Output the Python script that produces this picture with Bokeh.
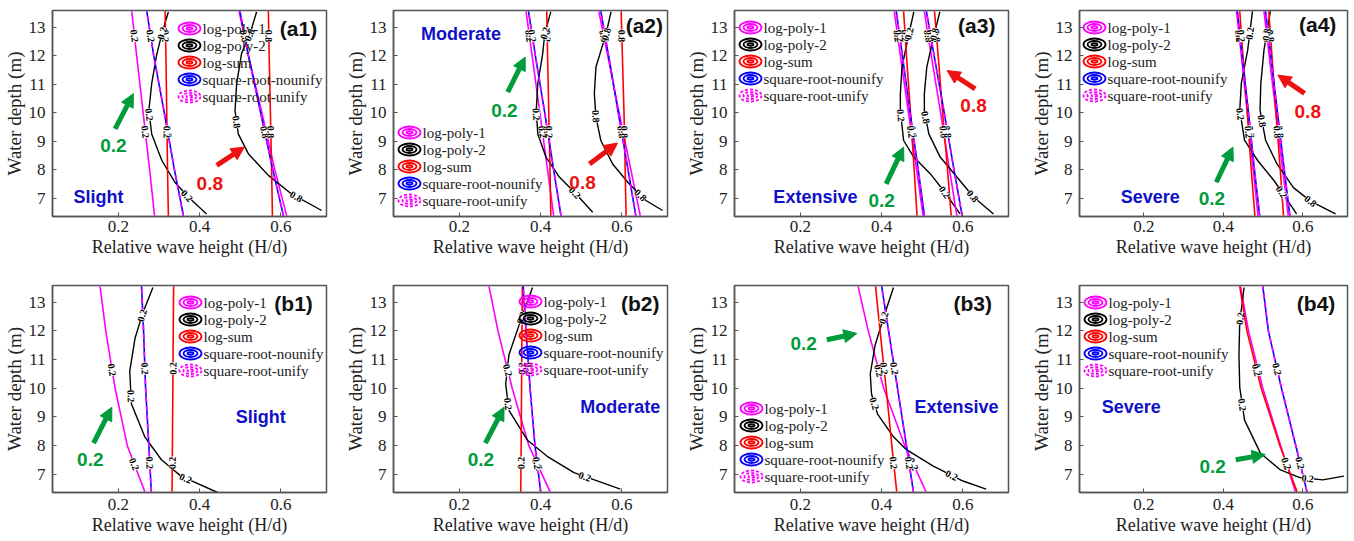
import math
from bokeh.plotting import figure
from bokeh.layouts import row, column
from bokeh.models import Range1d, FixedTicker, Arrow, NormalHead, Label
from bokeh.core.properties import value
from bokeh.embed import file_html
from bokeh.resources import INLINE

# ---------------- data ----------------
X_RANGE = (0.038, 0.712)
Y_RANGE = (6.37, 13.58)
X_TICKS = [0.2, 0.4, 0.6]
Y_TICKS = [7, 8, 9, 10, 11, 12, 13]
METHODS = ["log-poly-1", "log-poly-2", "log-sum", "square-root-nounify", "square-root-unify"]
DEPTH = [6.4, 8.0, 10.0, 12.0, 13.55]   # depths for near-straight contour lines

# (a1) Slight
A1_LP1_02 = [0.289, 0.277, 0.261, 0.245, 0.233]
A1_SR_02 = [0.360, 0.338, 0.313, 0.287, 0.270]
A1_LS_02 = [0.323, 0.321, 0.319, 0.317, 0.315]
A1_LP2_02_X = [0.323, 0.307, 0.294, 0.282, 0.275, 0.282, 0.307, 0.339, 0.372, 0.417]
A1_LP2_02_Y = [13.53, 12.77, 12.01, 11.02, 10.08, 9.26, 8.33, 7.57, 7.05, 6.46]
A1_LP1_08 = [0.614, 0.585, 0.553, 0.520, 0.497]
A1_SR_08 = [0.606, 0.580, 0.550, 0.520, 0.499]
A1_LS_08 = [0.579, 0.577, 0.574, 0.571, 0.569]
A1_LP2_08_X = [0.540, 0.524, 0.503, 0.491, 0.487, 0.495, 0.520, 0.569, 0.626, 0.700]
A1_LP2_08_Y = [13.53, 12.77, 12.07, 11.02, 10.08, 9.26, 8.56, 7.81, 7.16, 6.58]

# (a2) Moderate
A2_LP1_02 = [0.432, 0.417, 0.398, 0.379, 0.364]
A2_SR_02 = [0.450, 0.432, 0.410, 0.387, 0.370]
A2_LS_02 = [0.425, 0.423, 0.420, 0.417, 0.415]
A2_LP2_02_X = [0.425, 0.410, 0.405, 0.393, 0.389, 0.393, 0.413, 0.446, 0.487, 0.528]
A2_LP2_02_Y = [13.53, 12.77, 12.07, 11.02, 10.08, 9.26, 8.45, 7.75, 7.16, 6.52]
A2_LP1_08 = [0.645, 0.622, 0.593, 0.565, 0.543]
A2_SR_08 = [0.634, 0.615, 0.591, 0.567, 0.548]
A2_LS_08 = [0.610, 0.608, 0.605, 0.601, 0.598]
A2_LP2_08_X = [0.573, 0.561, 0.536, 0.532, 0.536, 0.548, 0.577, 0.618, 0.659, 0.700]
A2_LP2_08_Y = [13.53, 12.77, 11.60, 10.67, 9.85, 9.03, 8.21, 7.51, 6.93, 6.58]

# (a3) Extensive
A3_LP1_02 = [0.502, 0.486, 0.466, 0.446, 0.431]
A3_SR_02 = [0.505, 0.490, 0.470, 0.451, 0.436]
A3_LS_02 = [0.487, 0.480, 0.471, 0.461, 0.454]
A3_LP2_02_X = [0.479, 0.462, 0.450, 0.446, 0.446, 0.454, 0.479, 0.520, 0.552, 0.593]
A3_LP2_02_Y = [13.53, 12.42, 11.60, 10.67, 10.08, 9.03, 8.45, 7.86, 7.28, 6.46]
A3_LP1_08 = [0.585, 0.567, 0.545, 0.522, 0.505]
A3_SR_08 = [0.598, 0.578, 0.554, 0.529, 0.510]
A3_LS_08 = [0.571, 0.562, 0.550, 0.539, 0.530]
A3_LP2_08_X = [0.543, 0.524, 0.511, 0.505, 0.505, 0.516, 0.544, 0.585, 0.626, 0.675]
A3_LP2_08_Y = [13.53, 12.42, 11.60, 10.67, 10.08, 9.26, 8.45, 7.75, 7.05, 6.46]

# (a4) Severe
A4_LP1_02 = [0.487, 0.475, 0.460, 0.445, 0.433]
A4_SR_02 = [0.491, 0.478, 0.463, 0.447, 0.435]
A4_LS_02 = [0.479, 0.470, 0.460, 0.449, 0.441]
A4_LP2_02_X = [0.473, 0.461, 0.445, 0.441, 0.453, 0.486, 0.527, 0.584]
A4_LP2_02_Y = [13.55, 12.20, 11.03, 10.09, 9.04, 8.33, 7.63, 6.46]
A4_LP1_08 = [0.563, 0.549, 0.532, 0.515, 0.502]
A4_SR_08 = [0.567, 0.553, 0.536, 0.519, 0.506]
A4_LS_08 = [0.551, 0.543, 0.532, 0.522, 0.514]
A4_LP2_08_X = [0.518, 0.502, 0.494, 0.492, 0.506, 0.535, 0.576, 0.620, 0.682]
A4_LP2_08_Y = [13.55, 12.20, 11.03, 10.09, 9.04, 8.20, 7.38, 6.90, 6.46]

# (b1) Slight
B1_LP1_02 = [0.265, 0.222, 0.192, 0.169, 0.155]
B1_SR_02 = [0.281, 0.275, 0.267, 0.262, 0.257]
B1_LS_02 = [0.332, 0.333, 0.334, 0.335, 0.336]
B1_LP2_02_X = [0.285, 0.261, 0.241, 0.228, 0.232, 0.265, 0.306, 0.354, 0.444]
B1_LP2_02_Y = [13.51, 12.66, 11.74, 10.60, 9.46, 8.31, 7.51, 6.94, 6.37]

# (b2) Moderate
B2_LP1_02 = [0.423, 0.371, 0.330, 0.295, 0.273]
B2_SR_02 = [0.400, 0.386, 0.374, 0.364, 0.357]
B2_LS_02 = [0.351, 0.352, 0.353, 0.354, 0.355]
B2_LP2_02_X = [0.380, 0.355, 0.322, 0.314, 0.322, 0.367, 0.416, 0.482, 0.596]
B2_LP2_02_Y = [13.51, 12.54, 11.17, 10.14, 9.23, 8.20, 7.63, 7.06, 6.49]

# (b3) Extensive
B3_LP1_02 = [0.509, 0.457, 0.405, 0.367, 0.342]
B3_SR_02 = [0.478, 0.461, 0.439, 0.417, 0.400]
B3_LS_02 = [0.437, 0.425, 0.411, 0.396, 0.385]
B3_LP2_02_X = [0.429, 0.404, 0.384, 0.372, 0.375, 0.390, 0.429, 0.461, 0.527, 0.600, 0.657]
B3_LP2_02_Y = [13.51, 12.43, 11.51, 10.50, 9.80, 9.10, 8.31, 7.86, 7.29, 6.77, 6.49]

# (b4) Severe
B4_LP1_02 = [0.581, 0.544, 0.499, 0.463, 0.443]
B4_SR_02 = [0.610, 0.582, 0.546, 0.513, 0.499]
B4_LS_02 = [0.585, 0.542, 0.495, 0.459, 0.441]
B4_LP2_02_X = [0.452, 0.441, 0.439, 0.441, 0.453, 0.493, 0.542, 0.592, 0.650, 0.703]
B4_LP2_02_Y = [13.51, 12.31, 11.17, 10.03, 8.89, 7.74, 7.17, 6.89, 6.81, 6.94]

# ---------------- styling ----------------
MAGENTA = "#ff00ff"
BLUE = "#0000ff"
RED = "#ff0000"
BLACK = "#000000"
GREEN = "#009b3a"
ARROW_RED = "#ee1111"
SEV_BLUE = "#1010c8"
AXIS_C = "#555555"
TEXT_C = "#222222"
SERIF = "Liberation Serif"
SANS = "Liberation Sans"

LEGEND_STYLE = [(MAGENTA, "solid"), (BLACK, "solid"), (RED, "solid"), (BLUE, "solid"), (MAGENTA, "3 2")]


def point_along(xs, ys, frac, sx, sy):
    segs = []
    total = 0.0
    for i in range(len(xs) - 1):
        d = math.hypot((xs[i + 1] - xs[i]) * sx, (ys[i + 1] - ys[i]) * sy)
        segs.append(d)
        total += d
    target = frac * total
    acc = 0.0
    for i, d in enumerate(segs):
        if acc + d >= target or i == len(segs) - 1:
            t = (target - acc) / d if d > 0 else 0.0
            x = xs[i] + t * (xs[i + 1] - xs[i])
            y = ys[i] + t * (ys[i + 1] - ys[i])
            ang = math.atan2((ys[i + 1] - ys[i]) * sy, (xs[i + 1] - xs[i]) * sx)
            if ang > math.pi / 2:
                ang -= math.pi
            elif ang <= -math.pi / 2:
                ang += math.pi
            return x, y, ang
        acc += d


def make_panel(spec, fw, fh, left, right, top, bottom, xl_standoff):
    p = figure(frame_width=fw, frame_height=fh, min_border_left=left, min_border_right=right,
               min_border_top=top, min_border_bottom=bottom,
               x_range=Range1d(*X_RANGE), y_range=Range1d(*Y_RANGE),
               output_backend="svg", toolbar_location=None)
    p.grid.visible = False
    p.outline_line_color = AXIS_C
    p.outline_line_width = 1.5
    p.background_fill_color = "white"
    p.border_fill_color = "white"
    p.xaxis.ticker = FixedTicker(ticks=X_TICKS)
    p.yaxis.ticker = FixedTicker(ticks=Y_TICKS)
    p.xaxis.axis_label = "Relative wave height (H/d)"
    p.yaxis.axis_label = "Water depth (m)"
    for ax in (p.xaxis[0], p.yaxis[0]):
        ax.axis_label_text_font = SERIF
        ax.axis_label_text_font_style = "normal"
        ax.axis_label_text_color = TEXT_C
        ax.major_label_text_font = SERIF
        ax.major_label_text_font_size = "17px"
        ax.major_label_text_color = TEXT_C
        ax.major_tick_in = 4
        ax.major_tick_out = 0
        ax.minor_tick_in = 0
        ax.minor_tick_out = 0
        ax.axis_line_color = AXIS_C
        ax.axis_line_width = 1.5
        ax.major_tick_line_color = AXIS_C
    p.xaxis.axis_label_text_font_size = "18px"
    p.yaxis.axis_label_text_font_size = "19px"
    p.xaxis.major_label_standoff = xl_standoff
    p.xaxis.axis_label_standoff = 2
    p.yaxis.major_label_standoff = 7
    p.yaxis.axis_label_standoff = 1

    sx = fw / (X_RANGE[1] - X_RANGE[0])
    sy = fh / (Y_RANGE[1] - Y_RANGE[0])
    lab_x, lab_y, lab_t, lab_a = [], [], [], []
    for level, lp1, sr, ls, lp2x, lp2y in spec["curves"]:
        p.line(lp1, DEPTH, line_color=MAGENTA, line_width=1.6)
        p.line(lp2x, lp2y, line_color=BLACK, line_width=1.4)
        p.line(ls, DEPTH, line_color=RED, line_width=1.6)
        p.line(sr, DEPTH, line_color=BLUE, line_width=1.6)
        p.line(sr, DEPTH, line_color=MAGENTA, line_width=1.6, line_dash="5 4")
        for xs, ys, fracs in ((lp1, DEPTH, spec["sfr"]), (sr, DEPTH, spec["sfr"]),
                              (ls, DEPTH, spec["sfr"]), (lp2x, lp2y, spec["cfr"])):
            for f in fracs:
                x, y, a = point_along(xs, ys, f, sx, sy)
                lab_x.append(x); lab_y.append(y); lab_t.append(level); lab_a.append(a)
    p.text(x=lab_x, y=lab_y, text=lab_t, angle=lab_a, text_font=value(SERIF),
           text_font_style="bold", text_font_size="10px", text_align="center",
           text_baseline="middle", text_color=BLACK, background_fill_color="white")

    # legend (drawn by hand: concentric contour icons)
    lpx, lpy = spec["legend"]
    lx = X_RANGE[0] + lpx / fw * (X_RANGE[1] - X_RANGE[0])
    ys = []
    for i, (color, dash) in enumerate(LEGEND_STYLE):
        ly = Y_RANGE[1] - (lpy + i * 17) / fh * (Y_RANGE[1] - Y_RANGE[0])
        ys.append(ly)
        for w, h in ((22, 12), (14, 7), (6, 2.5)):
            p.ellipse(x=[lx], y=[ly], width=w, height=h, width_units="screen", height_units="screen",
                      fill_color=None, line_color=color, line_width=1.8, line_dash=dash)
    p.text(x=[lx] * len(METHODS), y=ys, text=METHODS, x_offset=13, text_font=value(SERIF),
           text_font_size="15px", text_baseline="middle", text_color=TEXT_C)

    # annotations
    tx, ty = spec["tag_pos"]
    p.add_layout(Label(x=tx, y=ty, text=spec["tag"], text_font=SANS, text_font_style="bold",
                       text_font_size="21px", text_align="center", text_baseline="middle",
                       text_color="#111111"))
    sxp, syp = spec["sev_pos"]
    p.add_layout(Label(x=sxp, y=syp, text=spec["sev"], text_font=SANS, text_font_style="bold",
                       text_font_size="18px", text_align="center", text_baseline="middle",
                       text_color=SEV_BLUE))
    for txt, color, tpos, a0, a1 in spec["arrows"]:
        p.add_layout(Label(x=tpos[0], y=tpos[1], text=txt, text_font=SANS, text_font_style="bold",
                           text_font_size="19px", text_align="center", text_baseline="middle",
                           text_color=color))
        p.add_layout(Arrow(end=NormalHead(size=13, fill_color=color, line_color=color),
                           x_start=a0[0], y_start=a0[1], x_end=a1[0], y_end=a1[1],
                           line_color=color, line_width=5))
    return p


A_SFR = [0.41, 0.88]
A_CFR = [0.1, 0.47, 0.88]
B_SFR = [0.14, 0.6]
B_CFR = [0.12, 0.45, 0.86]

specs_a = [
    dict(tag="(a1)", tag_pos=(0.643, 12.94), sev="Slight", sev_pos=(0.151, 7.05), legend=(137, 18),
         sfr=A_SFR, cfr=A_CFR,
         curves=[("0.2", A1_LP1_02, A1_SR_02, A1_LS_02, A1_LP2_02_X, A1_LP2_02_Y),
                 ("0.8", A1_LP1_08, A1_SR_08, A1_LS_08, A1_LP2_08_X, A1_LP2_08_Y)],
         arrows=[("0.2", GREEN, (0.188, 8.86), (0.192, 9.44), (0.237, 10.67)),
                 ("0.8", ARROW_RED, (0.425, 7.51), (0.442, 8.16), (0.51, 8.8))]),
    dict(tag="(a2)", tag_pos=(0.655, 13.06), sev="Moderate", sev_pos=(0.204, 12.77), legend=(16, 122),
         sfr=A_SFR, cfr=A_CFR,
         curves=[("0.2", A2_LP1_02, A2_SR_02, A2_LS_02, A2_LP2_02_X, A2_LP2_02_Y),
                 ("0.8", A2_LP1_08, A2_SR_08, A2_LS_08, A2_LP2_08_X, A2_LP2_08_Y)],
         arrows=[("0.2", GREEN, (0.311, 10.08), (0.319, 10.72), (0.362, 11.95)),
                 ("0.8", ARROW_RED, (0.503, 7.57), (0.52, 8.21), (0.589, 8.94))]),
    dict(tag="(a3)", tag_pos=(0.634, 13.06), sev="Extensive", sev_pos=(0.237, 7.05), legend=(16, 17),
         sfr=A_SFR, cfr=A_CFR,
         curves=[("0.2", A3_LP1_02, A3_SR_02, A3_LS_02, A3_LP2_02_X, A3_LP2_02_Y),
                 ("0.8", A3_LP1_08, A3_SR_08, A3_LS_08, A3_LP2_08_X, A3_LP2_08_Y)],
         arrows=[("0.2", GREEN, (0.40, 6.93), (0.411, 7.51), (0.454, 8.8)),
                 ("0.8", ARROW_RED, (0.626, 10.26), (0.63, 10.84), (0.561, 11.48))]),
    dict(tag="(a4)", tag_pos=(0.637, 13.08), sev="Severe", sev_pos=(0.216, 7.04), legend=(15, 17),
         sfr=A_SFR, cfr=A_CFR,
         curves=[("0.2", A4_LP1_02, A4_SR_02, A4_LS_02, A4_LP2_02_X, A4_LP2_02_Y),
                 ("0.8", A4_LP1_08, A4_SR_08, A4_LS_08, A4_LP2_08_X, A4_LP2_08_Y)],
         arrows=[("0.2", GREEN, (0.371, 6.99), (0.382, 7.57), (0.424, 8.8)),
                 ("0.8", ARROW_RED, (0.612, 10.03), (0.604, 10.68), (0.537, 11.32))]),
]
specs_b = [
    dict(tag="(b1)", tag_pos=(0.631, 12.94), sev="Slight", sev_pos=(0.55, 9.0), legend=(138, 17),
         sfr=B_SFR, cfr=B_CFR,
         curves=[("0.2", B1_LP1_02, B1_SR_02, B1_LS_02, B1_LP2_02_X, B1_LP2_02_Y)],
         arrows=[("0.2", GREEN, (0.131, 7.51), (0.139, 8.09), (0.184, 9.34))]),
    dict(tag="(b2)", tag_pos=(0.645, 12.94), sev="Moderate", sev_pos=(0.596, 9.34), legend=(137, 16),
         sfr=B_SFR, cfr=B_CFR,
         curves=[("0.2", B2_LP1_02, B2_SR_02, B2_LS_02, B2_LP2_02_X, B2_LP2_02_Y)],
         arrows=[("0.2", GREEN, (0.253, 7.51), (0.264, 8.09), (0.31, 9.34))]),
    dict(tag="(b3)", tag_pos=(0.624, 12.94), sev="Extensive", sev_pos=(0.584, 9.34), legend=(17, 123),
         sfr=B_SFR, cfr=B_CFR,
         curves=[("0.2", B3_LP1_02, B3_SR_02, B3_LS_02, B3_LP2_02_X, B3_LP2_02_Y)],
         arrows=[("0.2", GREEN, (0.208, 11.57), (0.265, 11.69), (0.339, 11.91))]),
    dict(tag="(b4)", tag_pos=(0.633, 12.94), sev="Severe", sev_pos=(0.168, 9.34), legend=(16, 17),
         sfr=B_SFR, cfr=B_CFR,
         curves=[("0.2", B4_LP1_02, B4_SR_02, B4_LS_02, B4_LP2_02_X, B4_LP2_02_Y)],
         arrows=[("0.2", GREEN, (0.373, 7.29), (0.431, 7.51), (0.505, 7.69))]),
]

COLS = [(274, 51, 15), (274, 51, 15), (274, 51, 15), (268, 56, 10)]

row_a = [make_panel(s, c[0], 206, c[1], c[2], 10, 54, 4) for s, c in zip(specs_a, COLS)]
row_b = [make_panel(s, c[0], 207, c[1], c[2], 15, 49, 6) for s, c in zip(specs_b, COLS)]

layout = column(row(*row_a), row(*row_b))
open("out.html", "w").write(file_html(layout, INLINE))
